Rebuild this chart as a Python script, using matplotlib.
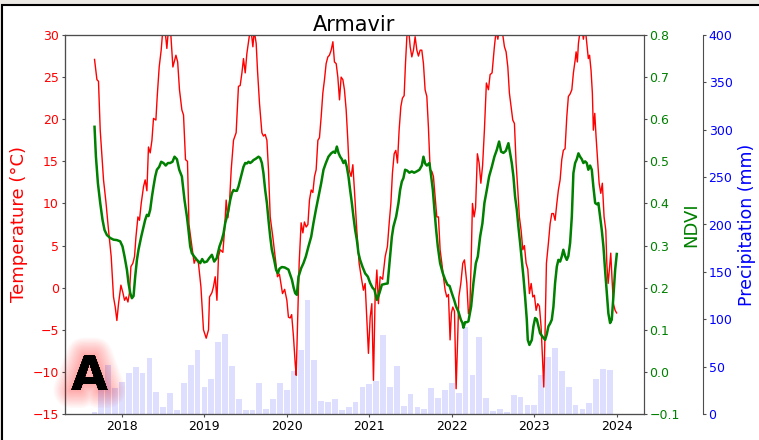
import numpy as np
import pandas as pd
import matplotlib
matplotlib.use("Agg")
import matplotlib.pyplot as plt
import matplotlib.patheffects as pe
from matplotlib.patches import Rectangle

# (decimal year, deg C)
temp_pts = [
    (2017.668, 27.1), (2017.697, 24.7), (2017.716, 24.5), (2017.737, 18.7), (2017.777, 12.8),
    (2017.806, 10.2), (2017.838, 6.8), (2017.870, 3.7), (2017.898, -1.1), (2017.919, -2.3),
    (2017.939, -3.9), (2017.959, -1.9), (2017.988, 0.3),
    (2018.012, -0.6), (2018.032, -1.5), (2018.052, -1.1), (2018.073, -1.7), (2018.092, -0.6),
    (2018.109, 2.5), (2018.133, 2.9), (2018.153, 3.7), (2018.170, 6.0), (2018.194, 8.4),
    (2018.213, 8.0), (2018.234, 10.0), (2018.262, 12.0), (2018.282, 12.8), (2018.303, 11.5),
    (2018.322, 16.7), (2018.343, 16.0), (2018.364, 17.5), (2018.383, 20.1), (2018.412, 19.9),
    (2018.428, 22.7), (2018.452, 26.2), (2018.476, 28.2), (2018.495, 30.5), (2018.519, 31.0),
    (2018.545, 28.4), (2018.567, 31.0), (2018.592, 30.2), (2018.618, 26.2), (2018.655, 27.6),
    (2018.676, 26.8), (2018.698, 23.5), (2018.727, 21.1), (2018.747, 20.5), (2018.771, 15.2),
    (2018.795, 15.0), (2018.813, 7.5), (2018.848, 4.9), (2018.876, 2.9), (2018.897, 3.5),
    (2018.928, 2.9), (2018.958, 0.1), (2018.989, -5.0),
    (2019.022, -6.0), (2019.050, -5.0), (2019.062, -1.1), (2019.091, -0.6), (2019.110, 0.1),
    (2019.131, 1.3), (2019.152, -1.5), (2019.171, 3.7), (2019.192, 4.5), (2019.224, 4.2),
    (2019.244, 6.8), (2019.264, 10.4), (2019.285, 8.3), (2019.304, 10.0), (2019.325, 14.0),
    (2019.353, 17.5), (2019.385, 18.4), (2019.413, 23.9), (2019.434, 24.0), (2019.455, 25.5),
    (2019.474, 27.2), (2019.495, 25.5), (2019.515, 27.8), (2019.543, 29.8), (2019.561, 31.0),
    (2019.588, 28.6), (2019.604, 30.5), (2019.628, 29.0), (2019.644, 25.8), (2019.668, 21.9),
    (2019.697, 18.4), (2019.716, 18.0), (2019.737, 18.2), (2019.758, 17.5), (2019.777, 14.0),
    (2019.798, 8.4), (2019.830, 6.0), (2019.858, 3.7), (2019.886, 1.3), (2019.910, 1.6),
    (2019.947, -0.7), (2019.973, -0.2),
    (2020.000, -1.5), (2020.019, -3.5), (2020.040, -3.6), (2020.058, -3.2), (2020.080, -5.8),
    (2020.101, -9.0), (2020.113, -10.4), (2020.133, -3.0), (2020.149, 2.9), (2020.173, 7.7),
    (2020.194, 6.5), (2020.213, 7.8), (2020.234, 7.2), (2020.255, 7.5), (2020.274, 10.4),
    (2020.295, 11.6), (2020.315, 11.3), (2020.335, 13.2), (2020.355, 14.0), (2020.376, 17.5),
    (2020.395, 17.8), (2020.416, 20.3), (2020.436, 23.1), (2020.456, 24.7), (2020.476, 26.6),
    (2020.497, 27.4), (2020.516, 27.6), (2020.537, 28.2), (2020.558, 29.2), (2020.577, 26.8),
    (2020.598, 26.6), (2020.618, 25.0), (2020.638, 22.3), (2020.658, 25.0), (2020.679, 24.7),
    (2020.698, 23.5), (2020.719, 21.1), (2020.739, 17.5), (2020.755, 14.0), (2020.779, 13.2),
    (2020.800, 14.6), (2020.819, 11.6), (2020.848, 6.8), (2020.876, 2.9), (2020.901, 1.3),
    (2020.928, -0.3), (2020.949, 0.5), (2020.970, -3.8), (2020.989, -7.8),
    (2021.010, -3.5), (2021.030, -1.9), (2021.050, -11.0), (2021.070, -1.1), (2021.091, 2.1),
    (2021.110, -1.9), (2021.131, 1.3), (2021.161, 1.0), (2021.192, 3.7), (2021.219, 4.9),
    (2021.240, 7.6), (2021.261, 10.0), (2021.280, 13.6), (2021.301, 15.9), (2021.321, 16.3),
    (2021.341, 14.8), (2021.361, 18.7), (2021.382, 21.5), (2021.401, 22.5), (2021.422, 22.8),
    (2021.438, 26.6), (2021.455, 29.8), (2021.474, 31.0), (2021.495, 28.6), (2021.515, 27.4),
    (2021.535, 28.2), (2021.555, 29.8), (2021.576, 28.2), (2021.595, 27.5), (2021.616, 28.2),
    (2021.636, 28.2), (2021.656, 26.6), (2021.676, 23.5), (2021.697, 22.7), (2021.716, 19.1),
    (2021.737, 14.0), (2021.758, 13.8), (2021.777, 13.2), (2021.798, 10.8), (2021.818, 8.4),
    (2021.838, 8.4), (2021.858, 4.5), (2021.879, 2.9), (2021.898, 1.3), (2021.919, -0.3),
    (2021.939, -1.1), (2021.959, -0.8), (2021.979, -6.2), (2021.995, -3.0),
    (2022.012, -2.3), (2022.032, -2.8), (2022.052, -12.0), (2022.068, -7.0), (2022.085, -1.1),
    (2022.109, 0.5), (2022.133, 2.9), (2022.153, 3.3), (2022.182, 0.5), (2022.201, -3.1),
    (2022.218, -2.5), (2022.234, 2.9), (2022.250, 10.0), (2022.270, 8.4), (2022.288, 9.5),
    (2022.310, 15.9), (2022.331, 14.8), (2022.352, 12.4), (2022.373, 14.5), (2022.395, 18.7),
    (2022.419, 24.3), (2022.444, 23.5), (2022.464, 25.3), (2022.488, 25.5), (2022.516, 28.6),
    (2022.537, 30.5), (2022.558, 29.5), (2022.579, 31.0), (2022.598, 30.5), (2022.618, 30.0),
    (2022.638, 28.6), (2022.658, 28.0), (2022.679, 26.2), (2022.698, 23.1), (2022.719, 21.5),
    (2022.739, 19.9), (2022.759, 19.5), (2022.779, 14.8), (2022.800, 11.6), (2022.819, 8.4),
    (2022.840, 6.8), (2022.861, 4.5), (2022.880, 5.0), (2022.901, 2.9), (2022.921, 2.2),
    (2022.941, -0.7), (2022.962, 0.5), (2022.982, -1.1),
    (2023.001, -0.9), (2023.022, -2.7), (2023.042, -1.9), (2023.062, -2.2), (2023.082, -4.6),
    (2023.098, -8.2), (2023.115, -11.8), (2023.131, -5.0), (2023.147, 2.9), (2023.171, 5.3),
    (2023.192, 7.6), (2023.212, 8.8), (2023.232, 8.8), (2023.252, 8.0), (2023.273, 10.0),
    (2023.292, 11.6), (2023.313, 12.8), (2023.333, 15.2), (2023.352, 16.3), (2023.373, 16.5),
    (2023.394, 20.3), (2023.413, 22.7), (2023.434, 23.0), (2023.455, 23.5), (2023.474, 25.5),
    (2023.495, 27.0), (2023.507, 28.0), (2023.522, 26.8), (2023.535, 29.0), (2023.555, 30.5),
    (2023.576, 31.0), (2023.595, 29.5), (2023.616, 31.0), (2023.636, 29.0), (2023.655, 27.2),
    (2023.670, 27.6), (2023.688, 25.8), (2023.704, 23.1), (2023.716, 18.7), (2023.733, 20.7),
    (2023.749, 17.9), (2023.765, 15.5), (2023.786, 12.4), (2023.806, 11.2), (2023.825, 12.4),
    (2023.846, 8.4), (2023.867, 6.8), (2023.879, 2.9), (2023.895, 0.5), (2023.910, 2.1),
    (2023.927, 4.1), (2023.943, 0.9), (2023.959, -1.9), (2023.980, -2.7), (2023.998, -3.0),
]

# (decimal year, NDVI)
ndvi_pts = [
    (2017.668, 0.582), (2017.685, 0.511), (2017.709, 0.448), (2017.737, 0.401), (2017.765, 0.361),
    (2017.789, 0.337), (2017.818, 0.325), (2017.858, 0.318), (2017.898, 0.314), (2017.939, 0.313),
    (2017.979, 0.310), (2018.007, 0.298), (2018.032, 0.274), (2018.061, 0.242), (2018.080, 0.211),
    (2018.101, 0.187), (2018.121, 0.175), (2018.141, 0.180), (2018.161, 0.226), (2018.182, 0.266),
    (2018.201, 0.290), (2018.234, 0.321), (2018.262, 0.345), (2018.282, 0.361), (2018.303, 0.373),
    (2018.322, 0.370), (2018.343, 0.385), (2018.364, 0.416), (2018.383, 0.440), (2018.404, 0.464),
    (2018.424, 0.480), (2018.452, 0.487), (2018.476, 0.499), (2018.504, 0.496), (2018.531, 0.490),
    (2018.558, 0.496), (2018.585, 0.496), (2018.613, 0.499), (2018.638, 0.511), (2018.667, 0.505),
    (2018.695, 0.480), (2018.727, 0.464), (2018.759, 0.408), (2018.788, 0.369), (2018.807, 0.337),
    (2018.828, 0.298), (2018.848, 0.282), (2018.876, 0.274), (2018.909, 0.266), (2018.931, 0.262),
    (2018.949, 0.258), (2018.973, 0.268), (2018.998, 0.260), (2019.030, 0.262), (2019.058, 0.270),
    (2019.091, 0.278), (2019.119, 0.262), (2019.149, 0.270), (2019.183, 0.298), (2019.212, 0.314),
    (2019.232, 0.329), (2019.252, 0.353), (2019.273, 0.369), (2019.292, 0.385), (2019.313, 0.408),
    (2019.333, 0.424), (2019.353, 0.432), (2019.373, 0.430), (2019.394, 0.430), (2019.413, 0.440),
    (2019.434, 0.456), (2019.455, 0.472), (2019.474, 0.487), (2019.495, 0.496), (2019.515, 0.495),
    (2019.535, 0.499), (2019.555, 0.496), (2019.576, 0.499), (2019.595, 0.503), (2019.622, 0.506),
    (2019.656, 0.511), (2019.676, 0.508), (2019.697, 0.496), (2019.716, 0.472), (2019.737, 0.432),
    (2019.758, 0.401), (2019.777, 0.361), (2019.798, 0.321), (2019.818, 0.290), (2019.846, 0.266),
    (2019.870, 0.242), (2019.891, 0.234), (2019.910, 0.245), (2019.939, 0.249), (2019.973, 0.248),
    (2020.019, 0.243), (2020.061, 0.219), (2020.082, 0.200), (2020.101, 0.187), (2020.121, 0.183),
    (2020.141, 0.226), (2020.173, 0.246), (2020.201, 0.258), (2020.230, 0.274), (2020.262, 0.298),
    (2020.295, 0.321), (2020.322, 0.353), (2020.352, 0.385), (2020.383, 0.416), (2020.416, 0.448),
    (2020.444, 0.480), (2020.473, 0.496), (2020.504, 0.511), (2020.537, 0.519), (2020.565, 0.523),
    (2020.585, 0.520), (2020.606, 0.535), (2020.626, 0.520), (2020.646, 0.511), (2020.667, 0.505),
    (2020.686, 0.496), (2020.707, 0.502), (2020.727, 0.487), (2020.747, 0.464), (2020.767, 0.432),
    (2020.788, 0.401), (2020.807, 0.369), (2020.828, 0.337), (2020.848, 0.314), (2020.868, 0.282),
    (2020.888, 0.266), (2020.916, 0.250), (2020.949, 0.234), (2020.982, 0.226), (2021.010, 0.211),
    (2021.038, 0.200), (2021.062, 0.195), (2021.091, 0.171), (2021.122, 0.187), (2021.152, 0.207),
    (2021.192, 0.209), (2021.222, 0.210), (2021.244, 0.258), (2021.273, 0.321), (2021.292, 0.345),
    (2021.325, 0.369), (2021.353, 0.401), (2021.373, 0.432), (2021.394, 0.452), (2021.413, 0.460),
    (2021.434, 0.480), (2021.458, 0.478), (2021.486, 0.473), (2021.515, 0.476), (2021.543, 0.473),
    (2021.573, 0.476), (2021.607, 0.480), (2021.636, 0.490), (2021.656, 0.511), (2021.676, 0.495),
    (2021.697, 0.490), (2021.728, 0.496), (2021.745, 0.472), (2021.770, 0.432), (2021.789, 0.385),
    (2021.810, 0.337), (2021.830, 0.298), (2021.858, 0.258), (2021.891, 0.234), (2021.919, 0.219),
    (2021.947, 0.207), (2021.973, 0.204), (2022.000, 0.187), (2022.028, 0.171), (2022.052, 0.155),
    (2022.080, 0.143), (2022.109, 0.124), (2022.129, 0.116), (2022.141, 0.105), (2022.161, 0.118),
    (2022.182, 0.118), (2022.201, 0.120), (2022.234, 0.155), (2022.262, 0.211), (2022.291, 0.258),
    (2022.315, 0.274), (2022.343, 0.321), (2022.371, 0.353), (2022.395, 0.401), (2022.424, 0.432),
    (2022.452, 0.464), (2022.485, 0.487), (2022.516, 0.511), (2022.545, 0.527), (2022.573, 0.547),
    (2022.598, 0.523), (2022.626, 0.520), (2022.655, 0.525), (2022.686, 0.543), (2022.707, 0.519),
    (2022.727, 0.496), (2022.747, 0.464), (2022.767, 0.416), (2022.788, 0.385), (2022.807, 0.345),
    (2022.828, 0.306), (2022.848, 0.266), (2022.868, 0.226), (2022.888, 0.179), (2022.909, 0.124),
    (2022.921, 0.076), (2022.941, 0.064), (2022.970, 0.076), (2022.989, 0.108), (2023.010, 0.128),
    (2023.030, 0.125), (2023.050, 0.108), (2023.070, 0.092), (2023.098, 0.084), (2023.131, 0.076),
    (2023.152, 0.090), (2023.171, 0.108), (2023.192, 0.115), (2023.212, 0.124), (2023.232, 0.155),
    (2023.252, 0.211), (2023.273, 0.250), (2023.292, 0.266), (2023.313, 0.262), (2023.333, 0.274),
    (2023.352, 0.290), (2023.373, 0.275), (2023.394, 0.266), (2023.413, 0.275), (2023.434, 0.306),
    (2023.455, 0.369), (2023.474, 0.472), (2023.495, 0.496), (2023.515, 0.505), (2023.535, 0.519),
    (2023.555, 0.511), (2023.576, 0.505), (2023.595, 0.496), (2023.616, 0.500), (2023.636, 0.496),
    (2023.655, 0.480), (2023.676, 0.490), (2023.697, 0.480), (2023.716, 0.440), (2023.738, 0.401),
    (2023.758, 0.398), (2023.777, 0.401), (2023.798, 0.369), (2023.818, 0.337), (2023.838, 0.298),
    (2023.858, 0.242), (2023.879, 0.187), (2023.898, 0.139), (2023.919, 0.116), (2023.939, 0.124),
    (2023.959, 0.179), (2023.980, 0.242), (2024.000, 0.280),
]

# monthly precipitation (mm), Sep 2017 .. Dec 2023
precip_start = "2017-09-01"
precip_mm = [
    2, 26, 52, 27,
    34, 43, 50, 43, 59, 23, 7, 22, 4, 33, 52, 68,
    29, 37, 76, 84, 51, 16, 4, 4, 33, 5, 16, 33,
    25, 45, 68, 120, 57, 14, 13, 16, 4, 7, 13, 29,
    32, 35, 83, 29, 51, 8, 21, 7, 5, 27, 17, 25,
    33, 22, 92, 41, 81, 17, 3, 5, 2, 20, 18, 9,
    9, 41, 60, 70, 45, 29, 9, 5, 12, 37, 47, 46,
]

years = list(range(2018, 2025))

temp_t, temp_c = np.array(temp_pts).T
ndvi_t, ndvi_v = np.array(ndvi_pts).T
months = pd.date_range(precip_start, periods=len(precip_mm), freq="MS")
month_x = months.year + (months.month - 1) / 12

fig = plt.figure(figsize=(7.59, 4.40), dpi=100, facecolor="#ece8e4")
fig.add_artist(Rectangle((2 / 759, -0.1), 1.2, 1.1 - 5 / 440, transform=fig.transFigure,
                         facecolor="white", edgecolor="black", linewidth=1.5, zorder=-1))

ax = fig.add_axes([65 / 759, 1 - 414 / 440, 579 / 759, 379 / 440])
ax2 = ax.twinx()
ax3 = ax.twinx()
ax3.spines["right"].set_position(("axes", 1.102))

# bars at the back, NDVI on top
ax3.set_zorder(1)
ax.set_zorder(2)
ax2.set_zorder(3)
ax.patch.set_visible(False)
ax2.patch.set_visible(False)

ax3.bar(month_x, precip_mm, width=0.07, color="blue", alpha=0.13, linewidth=0)
ax.plot(temp_t, temp_c, color="red", linewidth=1.0)
ax2.plot(ndvi_t, ndvi_v, color="green", linewidth=1.8)

ax.set_xlim(2017.31, 2024.33)
ax.set_ylim(-15, 30)
ax2.set_ylim(-0.1, 0.8)
ax3.set_ylim(0, 400)

ax.set_xticks(years)
ax.set_xticklabels([str(y) for y in years])
ax.set_yticks(range(-15, 31, 5))
ax2.set_yticks(np.round(np.arange(-0.1, 0.85, 0.1), 1))
ax3.set_yticks(range(0, 401, 50))

for a in (ax, ax2, ax3):
    for s in a.spines.values():
        s.set_color("0.3")
    a.tick_params(color="0.3", length=2.5, pad=2)

ax.tick_params(axis="x", labelsize=9)
ax.tick_params(axis="y", labelsize=9, labelcolor="red")
ax2.tick_params(axis="y", labelsize=9, labelcolor="green", pad=1.5)
ax3.tick_params(axis="y", labelsize=9, labelcolor="blue", pad=1.5)

ax.set_ylabel("Temperature (°C)", color="red", fontsize=13, labelpad=3)
ax2.set_ylabel("NDVI", color="green", fontsize=13, labelpad=2)
ax3.set_ylabel("Precipitation (mm)", color="blue", fontsize=12.5, labelpad=4)
ax.set_title("Armavir", fontsize=15, pad=3)

# soft red glow behind the panel letter
glow = [pe.Stroke(linewidth=w, foreground=(1, 0, 0, 0.028), joinstyle="round")
        for w in range(26, 1, -2)]
fig.text(89.5 / 759, 1 - 390 / 440, "A", fontsize=34, fontweight="bold", color="black",
         ha="center", va="baseline", path_effects=glow + [pe.Normal()], zorder=10)

fig.savefig("out.png", dpi=100, facecolor=fig.get_facecolor())
